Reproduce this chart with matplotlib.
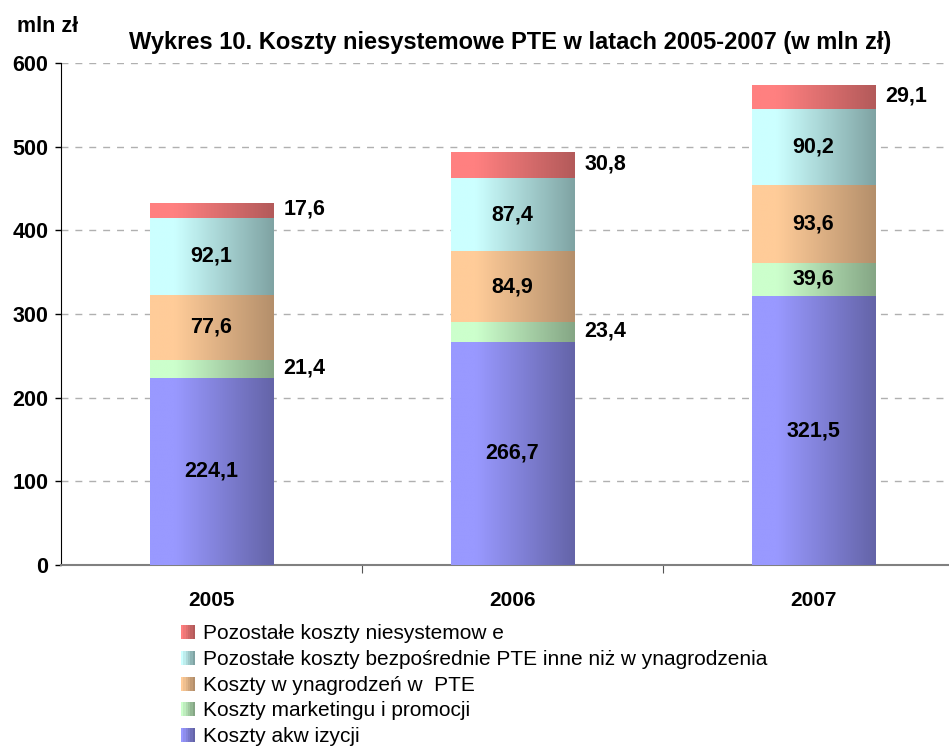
import numpy as np
import matplotlib
matplotlib.use("Agg")
import matplotlib.pyplot as plt
from matplotlib.colors import LinearSegmentedColormap
from matplotlib.legend_handler import HandlerBase
from matplotlib.patches import Rectangle

plt.rcParams['font.family'] = ['Liberation Sans', 'DejaVu Sans']

years = ["2005", "2006", "2007"]
akwizycja = [224.1, 266.7, 321.5]
marketing = [21.4, 23.4, 39.6]
wynagrodzenia = [77.6, 84.9, 93.6]
bezposrednie = [92.1, 87.4, 90.2]
niesystemowe = [17.6, 30.8, 29.1]

series = [
    ("Koszty akw izycji", akwizycja, ("#9999ff", "#6464a8")),
    ("Koszty marketingu i promocji", marketing, ("#ccffcc", "#85a685")),
    ("Koszty w ynagrodzeń w  PTE", wynagrodzenia, ("#ffcc99", "#b48f6b")),
    ("Pozostałe koszty bezpośrednie PTE inne niż w ynagrodzenia", bezposrednie, ("#ccffff", "#7fa3a3")),
    ("Pozostałe koszty niesystemow e", niesystemowe, ("#ff8080", "#b35a5a")),
]

fig = plt.figure(figsize=(9.49, 7.46), dpi=100)
ax = fig.add_axes([61 / 949, 181 / 746, 1 - 61 / 949, 502 / 746])

x = np.arange(len(years))
width = 0.41
bottom = np.zeros(len(years))
grad = np.linspace(0, 1, 256).reshape(1, -1)
grad = np.clip((grad - 0.2) / 0.8, 0, 1)

handles = []
for name, vals, (c1, c2) in series:
    cmap = LinearSegmentedColormap.from_list(name, [c1, c2])
    bars = ax.bar(x, vals, width, bottom=bottom, color=c2, linewidth=0, zorder=2)
    for b in bars:
        x0, y0, w, h = b.get_x(), b.get_y(), b.get_width(), b.get_height()
        im = ax.imshow(grad, cmap=cmap, aspect="auto", extent=[x0, x0 + w, y0, y0 + h],
                       zorder=3, interpolation="bilinear")
        im.set_clip_path(b)
    for xi, v, b0 in zip(x, vals, bottom):
        lab = f"{v:.1f}".replace(".", ",")
        if v >= 35:
            ax.text(xi, b0 + v / 2, lab, ha="center", va="center", fontsize=15.5, fontweight="bold", zorder=5)
        else:
            ax.text(xi + width / 2 + 0.033, b0 + v / 2 + 1, lab, ha="left", va="center", fontsize=15.5,
                    fontweight="bold", zorder=5)
    handles.append((Rectangle((0, 0), 1, 1), name, c1, c2))
    bottom = bottom + np.array(vals)

ax.set_xlim(-0.5, 2.45)
ax.set_ylim(0, 600)
ax.set_yticks(range(0, 601, 100))
ax.set_yticklabels([str(t) for t in range(0, 601, 100)], fontsize=15.5, fontweight="bold")
ax.set_xticks([0.5, 1.5])
ax.set_xticklabels([])
ax.tick_params(axis="x", length=6, color="#555555", direction="out")
ax.tick_params(axis="y", length=4, width=1, direction="out", pad=5)
for xi, y in zip(x, years):
    ax.text(xi, -43, y, ha="center", va="center", fontsize=15, fontweight="bold")

for t in range(100, 601, 100):
    ax.axhline(t, color="#b0b0b0", linestyle=(0, (5, 5)), linewidth=1, zorder=1)
for s in ["top", "right"]:
    ax.spines[s].set_visible(False)
ax.spines["bottom"].set_color("#808080")
ax.spines["bottom"].set_linewidth(1.5)
ax.spines["left"].set_color("black")

fig.text(17 / 949, 1 - 27 / 746, "mln zł", fontsize=15.5, fontweight="bold", va="center")
fig.text(510 / 949, 1 - 42 / 746, "Wykres 10. Koszty niesystemowe PTE w latach 2005-2007 (w mln zł)",
         fontsize=17, fontweight="bold", ha="center", va="center")


class GradHandler(HandlerBase):
    def __init__(self, c1, c2):
        super().__init__()
        self.c1, self.c2 = c1, c2

    def create_artists(self, legend, orig, xd, yd, w, h, fontsize, trans):
        cmap = LinearSegmentedColormap.from_list("h", [self.c1, self.c2])
        n = 6
        side = h * 0.95
        arts = []
        for i in range(n):
            r = Rectangle((xd + w - side + i * side / n, yd), side / n + 0.01, side,
                          facecolor=cmap(i / (n - 1)), edgecolor="none", transform=trans)
            arts.append(r)
        return arts


hl = list(reversed(handles))
leg = fig.legend([h[0] for h in hl], [h[1] for h in hl],
                 handler_map={h[0]: GradHandler(h[2], h[3]) for h in hl},
                 loc="upper left", bbox_to_anchor=(172 / 949, 1 - 616 / 746),
                 frameon=False, fontsize=15, handlelength=0.7, handletextpad=0.4,
                 labelspacing=0.32, borderaxespad=0)

fig.savefig("out.png", dpi=100)
